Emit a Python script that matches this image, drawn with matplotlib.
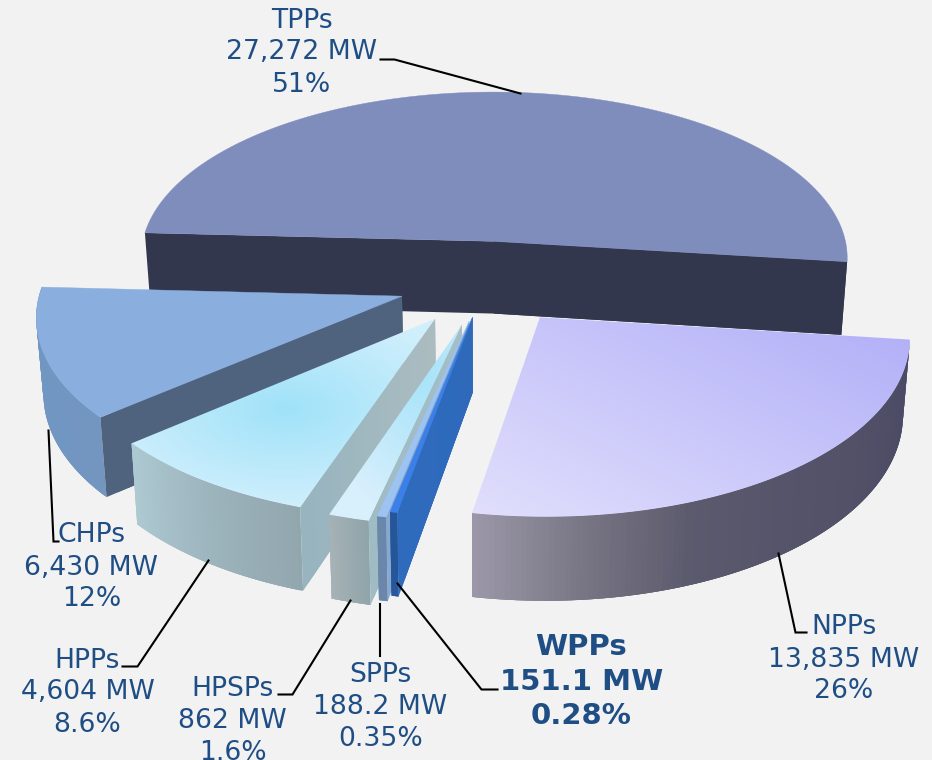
import numpy as np
import matplotlib
matplotlib.use("Agg")
import matplotlib.pyplot as plt
from matplotlib.collections import PolyCollection
from matplotlib.colors import to_rgb
from matplotlib.patches import Polygon

# --- data (clockwise from the TPPs slice)
names = ["TPPs", "NPPs", "WPPs", "SPPs", "HPSPs", "HPPs", "CHPs"]
capacity_mw = [27272, 13835, 151.1, 188.2, 862, 4604, 6430]
capacity_labels = ["27,272 MW", "13,835 MW", "151.1 MW", "188.2 MW", "862 MW", "4,604 MW", "6,430 MW"]
share_labels = ["51%", "26%", "0.28%", "0.35%", "1.6%", "8.6%", "12%"]

# --- styles
explode = dict(TPPs=.246, NPPs=.246, WPPs=.20, SPPs=.225, HPSPs=.25, HPPs=.25, CHPs=.246)
START = 177.0
CX, CY, A, B, P, DEPTH, SHRINK = 486, 282, 360, 172, .10, 74, .016
BG = "#f2f2f2"
TEXT = "#1f4e85"
outer_cols = dict(TPPs=["#32374d"] * 2,
                  NPPs=["#4a4866", "#4e4d66", "#525168", "#55546a", "#5c5a6d", "#787684", "#9b97a8"],
                  WPPs=["#25569a"] * 2, SPPs=["#6b86ab"] * 2, HPSPs=["#8fa4a9", "#a6b2b6"],
                  HPPs=["#92a6ae", "#9db5be", "#adc9d1"], CHPs=["#7296c0", "#7196c2", "#7096c3"])
cut_cols = dict(WPPs=["#2f6bbd", "#2e69ba"], SPPs=["#87a9cf", "#7ea0c8"], HPSPs=["#9fbbc4", "#a4bec4"],
                HPPs=["#97b4bf", "#abbcc0"], CHPs=["#4f637f", "#4f637f"])
flat_top = dict(TPPs="#7f8dbd", CHPs="#8aaede", SPPs="#9cc3f2", WPPs="#3a80e8")


def proj(u, v, z=0.0):
    s = 1 / (1 + P * v)
    k = 1 - SHRINK * z
    return CX + A * u * s * k, CY - B * v * s + DEPTH * z * s


def ramp(cols, n):
    c = np.array([to_rgb(x) for x in cols])
    t = np.linspace(0, len(c) - 1, n)
    return np.stack([np.interp(t, np.arange(len(c)), c[:, i]) for i in range(3)], 1)


def ribbon(ax, u, v, cols, zo):
    xt, yt = proj(u, v, 0)
    xb, yb = proj(u, v, 1)
    n = len(u)
    q = []
    for i in range(n - 1):
        j = min(i + 3, n - 1)   # overlap the next quads so that no seams show
        top = np.c_[xt[i:j + 1], yt[i:j + 1]]
        bot = np.c_[xb[i:j + 1], yb[i:j + 1]][::-1]
        q.append(np.r_[top, bot])
    ax.add_collection(PolyCollection(q, facecolors=ramp(cols, len(q)), edgecolors="none", zorder=zo))


fig = plt.figure(figsize=(9.32, 7.60), dpi=100, facecolor=BG)
ax = fig.add_axes([0, 0, 1, 1])
ax.set_facecolor(BG)
ax.axis("off")

yy, xx = np.mgrid[0:760, 0:932]
def grad_npp():
    t = np.clip(((xx - 480) * .45 - (yy - 510) * .9) / 350, 0, 1)[..., None]
    return np.array(to_rgb("#e0defc")) * (1 - t) + np.array(to_rgb("#b3b0f8")) * t
def grad_hpp():
    t = np.clip(np.hypot((xx - 285) / 190, (yy - 408) / 100), 0, 1)[..., None]
    return np.array(to_rgb("#a0e2f9")) * (1 - t) + np.array(to_rgb("#d0effc")) * t
def grad_hpsp():
    t = np.clip(np.hypot((xx - 420) / 100, (yy - 370) / 150), 0, 1)[..., None]
    return np.array(to_rgb("#a6e3f9")) * (1 - t) + np.array(to_rgb("#d8effc")) * t
grad_top = dict(NPPs=grad_npp, HPPs=grad_hpp, HPSPs=grad_hpsp)

total = sum(capacity_mw)
order = ["TPPs", "NPPs", "CHPs", "HPPs", "HPSPs", "SPPs", "WPPs"]  # painter's order
zmap = {n: 2 + i * 2 for i, n in enumerate(order)}
ang = START
for name, val in zip(names, capacity_mw):
    a0 = ang
    a1 = ang - val / total * 360
    ang = a1
    mid = np.radians((a0 + a1) / 2)
    ou, ov = explode[name] * np.cos(mid), explode[name] * np.sin(mid)
    th = np.radians(np.linspace(a0, a1, 120))
    u, v = ou + np.cos(th), ov + np.sin(th)
    z = zmap[name]
    if name == "TPPs":
        ru = np.array([u[0], ou, u[-1]])
        rv = np.array([v[0], ov, v[-1]])
        ribbon(ax, ru, rv, outer_cols[name], z)
    else:
        ribbon(ax, u, v, outer_cols[name], z)
        if name in cut_cols:
            t = np.linspace(0, 1, 30)
            ribbon(ax, u[0] + (ou - u[0]) * t, v[0] + (ov - v[0]) * t, cut_cols[name], z)
    x, y = proj(np.r_[ou, u], np.r_[ov, v], 0)
    pts = np.c_[x, y]
    if name in flat_top:
        ax.add_patch(Polygon(pts, closed=True, fc=flat_top[name], ec=flat_top[name], lw=.3, zorder=z + 1))
    else:
        clip = Polygon(pts, closed=True, transform=ax.transData)
        im = ax.imshow(grad_top[name](), extent=(-.5, 931.5, 759.5, -.5), aspect="auto", zorder=z + 1, interpolation="nearest")
        im.set_clip_path(clip)

ax.set_xlim(-.5, 931.5)
ax.set_ylim(759.5, -.5)

# --- leader lines
leaders = dict(TPPs=[(380, 59), (394, 59), (520, 93)], NPPs=[(778, 553), (795, 632), (806, 632)],
               CHPs=[(48, 430), (53, 541), (58, 541)], HPPs=[(208, 560), (137, 666), (122, 666)],
               HPSPs=[(350, 600), (292, 694), (278, 694)], SPPs=[(379, 603), (379, 655)],
               WPPs=[(397, 583), (481, 689), (497, 689)])
for n, pts in leaders.items():
    p = np.array(pts)
    ax.plot(p[:, 0], p[:, 1], color="black", lw=1.5, zorder=30, solid_joinstyle="miter")

# --- labels
anchor = dict(TPPs=(301, 52), NPPs=(843, 659), CHPs=(91, 567), HPPs=(87, 692),
              HPSPs=(232, 721), SPPs=(380, 706), WPPs=(581, 681))
for n, c, s in zip(names, capacity_labels, share_labels):
    bold = n == "WPPs"
    ax.text(*anchor[n], f"{n}\n{c}\n{s}", ha="center", va="center", color=TEXT, linespacing=1.3,
            fontsize=21 if bold else 19.2, fontweight="bold" if bold else "normal",
            family="DejaVu Sans", zorder=31, clip_on=True)

fig.savefig("out.png", dpi=100, facecolor=BG)
